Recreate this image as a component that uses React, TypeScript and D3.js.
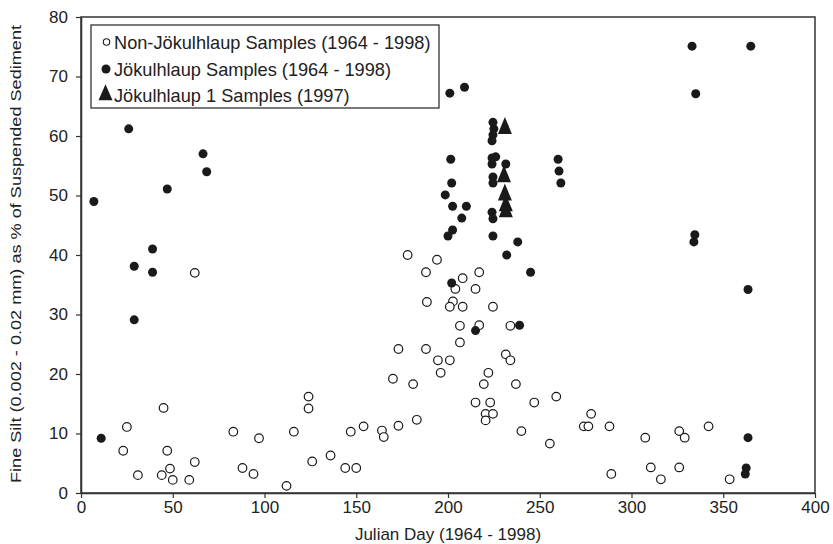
import React, { useEffect, useRef } from "react";
import * as d3 from "d3";

const nonJokulhlaup: [number, number][] = [
  [62, 37], [45, 14.3], [25, 11.1], [23, 7.1], [47, 7.1], [62, 5.2], [48.5, 4.1], [31, 3], [44, 3], [50, 2.2], [59, 2.2],
  [83, 10.3], [97, 9.2], [88, 4.2], [94, 3.2], [112, 1.2], [116, 10.3], [124, 16.2], [124, 14.2], [126, 5.3], [136, 6.3],
  [144, 4.2], [150, 4.2], [147, 10.3], [154, 11.2], [164, 10.5], [165, 9.4], [173, 11.3], [183, 12.3], [170, 19.2],
  [181, 18.3], [173, 24.2], [188, 24.2], [194.5, 22.3], [196, 20.2], [201, 22.3], [178, 40], [194, 39.2], [188, 37.1],
  [188.5, 32.1], [204, 34.3], [202.7, 32.2], [201, 31.3], [208, 36.1], [217, 37.1], [215, 34.3], [208, 31.3], [224.5, 31.3],
  [206.5, 28.1], [217, 28.2], [234, 28.1], [206.5, 25.3], [231.5, 23.3], [234, 22.3], [222, 20.2], [219.5, 18.3], [237, 18.3],
  [215, 15.2], [223, 15.2], [247, 15.2], [259, 16.2], [220.5, 13.3], [224.5, 13.3], [220.5, 12.2], [240, 10.4], [255.5, 8.3],
  [278, 13.3], [274, 11.2], [276.5, 11.2], [288, 11.2], [289, 3.2], [307.5, 9.3], [326, 10.4], [329, 9.3], [342, 11.2],
  [310.5, 4.3], [316, 2.3], [326, 4.3], [353.5, 2.3],
];

const jokulhlaup: [number, number][] = [
  [7, 49], [11, 9.2], [26, 61.2], [29, 38.1], [29, 29.1], [39, 41], [39, 37.1], [47, 51.1], [66.5, 57], [68.5, 54],
  [201, 67.2], [209, 68.2], [224.5, 62.3], [225, 61.2], [224.5, 60.2], [224, 59.2], [201.5, 56.1], [224, 56.3], [226, 56.5],
  [224, 55.3], [231.5, 55.3], [260, 56.1], [260.5, 54.1], [261.5, 52.1], [224.5, 53.1], [224.5, 52.1], [202, 52.1],
  [198.5, 50.1], [202.5, 48.2], [210, 48.2], [207.5, 46.2], [224, 47.2], [224.5, 46.1], [202.5, 44.2], [200, 43.2],
  [224.5, 43.2], [238, 42.2], [232, 40], [245, 37.1], [202, 35.3], [215, 27.3], [239, 28.2], [333, 75.1], [365, 75.1],
  [335, 67.1], [334.5, 43.4], [334, 42.2], [363.5, 34.2], [363.5, 9.3], [362.5, 4.2], [362, 3.2],
];

const jokulhlaup1: [number, number][] = [
  [231, 61.3], [230.5, 53.2], [231, 50.1], [231.5, 48.3], [231.5, 47.3],
];

const xTicks = [0, 50, 100, 150, 200, 250, 300, 350, 400];
const yTicks = [0, 10, 20, 30, 40, 50, 60, 70, 80];
const legendLabels = [
  "Non-Jökulhlaup Samples (1964 - 1998)",
  "Jökulhlaup Samples (1964 - 1998)",
  "Jökulhlaup 1 Samples (1997)",
];
const xTitle = "Julian Day (1964 - 1998)";
const yTitle = "Fine Silt (0.002 - 0.02 mm) as % of Suspended Sediment";

const W = 833, H = 544;
const M = { left: 81, right: 18, top: 17, bottom: 51 };
const AX = "#333333";
const INK = "#1a1a1a";
const SANS = "'Liberation Sans', Arial, sans-serif";

// triangle path centred on its centroid
const triPath = (w: number, h: number) => {
  const p = d3.path();
  p.moveTo(0, (-2 * h) / 3);
  p.lineTo(w / 2, h / 3);
  p.lineTo(-w / 2, h / 3);
  p.closePath();
  return p.toString();
};

export default function App() {
  const ref = useRef<SVGSVGElement>(null);
  useEffect(() => {
    const svg = d3.select(ref.current);
    svg.selectAll("*").remove();
    const x = d3.scaleLinear().domain([0, 400]).range([M.left, W - M.right]);
    const y = d3.scaleLinear().domain([0, 80]).range([H - M.bottom, M.top]);

    svg.append("rect").attr("x", x(0)).attr("y", y(80)).attr("width", x(400) - x(0)).attr("height", y(0) - y(80))
      .attr("fill", "none").attr("stroke", AX).attr("stroke-width", 1.5);

    const xa = svg.append("g").attr("transform", `translate(0,${y(0)})`)
      .call(d3.axisBottom(x).tickValues(xTicks).tickSize(5).tickSizeOuter(0).tickPadding(3));
    const ya = svg.append("g").attr("transform", `translate(${x(0)},0)`)
      .call(d3.axisLeft(y).tickValues(yTicks).tickSize(5).tickSizeOuter(0).tickPadding(8));
    [xa, ya].forEach((g) => {
      g.select(".domain").attr("stroke", AX).attr("stroke-width", 1.5);
      g.selectAll(".tick line").attr("stroke", AX).attr("stroke-width", 1.2);
      g.selectAll(".tick text").attr("fill", "#222").style("font-family", SANS).style("font-size", "17px");
    });

    svg.append("text").attr("x", (x(0) + x(400)) / 2).attr("y", 540).attr("text-anchor", "middle")
      .style("font-family", SANS).style("font-size", "17px").attr("fill", "#222").text(xTitle);
    svg.append("text").attr("transform", `translate(21,${254}) rotate(-90)`).attr("text-anchor", "middle")
      .attr("textLength", 458).attr("lengthAdjust", "spacingAndGlyphs")
      .style("font-family", SANS).style("font-size", "15px").attr("fill", "#222").text(yTitle);

    const pts = svg.append("g");
    pts.selectAll("circle.o").data(nonJokulhlaup).join("circle").attr("class", "o")
      .attr("cx", (d) => x(d[0])).attr("cy", (d) => y(d[1])).attr("r", 4.3)
      .attr("fill", "white").attr("stroke", INK).attr("stroke-width", 1.2);
    pts.selectAll("circle.f").data(jokulhlaup).join("circle").attr("class", "f")
      .attr("cx", (d) => x(d[0])).attr("cy", (d) => y(d[1])).attr("r", 4.5).attr("fill", INK);
    pts.selectAll("path.t").data(jokulhlaup1).join("path").attr("class", "t")
      .attr("transform", (d) => `translate(${x(d[0])},${y(d[1])})`).attr("d", triPath(14, 17)).attr("fill", INK);

    const lg = svg.append("g");
    lg.append("rect").attr("x", 91).attr("y", 25).attr("width", 348).attr("height", 83)
      .attr("fill", "white").attr("stroke", AX).attr("stroke-width", 1.3);
    const rowY = [42, 69, 95];
    lg.append("circle").attr("cx", 106.5).attr("cy", rowY[0]).attr("r", 3.2).attr("fill", "white").attr("stroke", INK).attr("stroke-width", 1.1);
    lg.append("circle").attr("cx", 106).attr("cy", rowY[1]).attr("r", 4.5).attr("fill", INK);
    lg.append("path").attr("transform", `translate(105.5,${rowY[2]})`).attr("d", triPath(14, 16)).attr("fill", INK);
    legendLabels.forEach((t, i) => {
      lg.append("text").attr("x", 114).attr("y", rowY[i]).attr("dy", "0.36em")
        .style("font-family", SANS).style("font-size", "18.2px").attr("fill", "#222").text(t);
    });
  }, []);
  return <svg ref={ref} width={W} height={H} style={{ position: "absolute", left: 0, top: 0, background: "white" }} />;
}
